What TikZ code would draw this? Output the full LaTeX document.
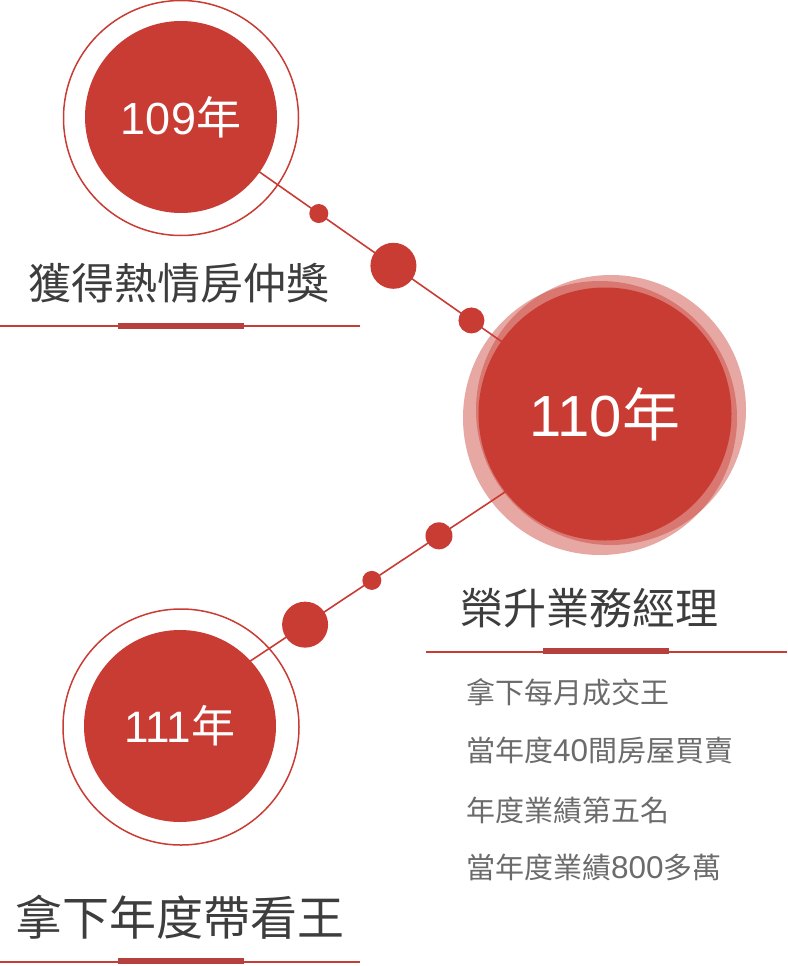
\documentclass[tikz,border=0pt]{standalone}
\usepackage{fontspec}
\setmainfont{Liberation Sans}
\newfontfamily\cjk{Noto Sans CJK TC}
\usetikzlibrary{backgrounds}
\definecolor{brand}{HTML}{C93C34}
\definecolor{barred}{HTML}{B5403D}
\definecolor{titlegray}{HTML}{3D3D3D}
\definecolor{itemgray}{HTML}{6B6B6B}
\newcommand{\itemdigits}[1]{{\fontsize{31.5}{31.5}\selectfont #1}}
\tikzset{
  bead/.style={circle, fill=brand, inner sep=0pt, draw=none},
  ringnode/.style={circle, draw=brand, line width=1.5pt, inner sep=0pt},
  disc/.style={circle, fill=brand, inner sep=0pt, text=white},
  halo/.style={circle, fill=brand, fill opacity=0.45, inner sep=0pt},
  link/.style={draw=brand, line width=1.6pt},
  titletext/.style={anchor=base west, inner sep=0pt, text=titlegray, font=\cjk\fontsize{43}{43}\selectfont},
  itemtext/.style={anchor=base west, inner sep=0pt, text=itemgray, font=\fontsize{29}{29}\selectfont},
  hairline/.style={draw=brand, line width=1.3pt},
  accentbar/.style={draw=barred, line width=6pt}
}
\begin{document}
\begin{tikzpicture}[x=1pt,y=-1pt]
\useasboundingbox (0,0) rectangle (787,966);

% circle 1
\node[ringnode, minimum size=235pt] (r1) at (181,118) {};
\node[disc, minimum size=192pt, font=\fontsize{45}{45}\selectfont] (c1) at (181,117) {109{\cjk 年}};

% circle 2 with halos
\node[halo, minimum size=274pt] (h1) at (600,418) {};
\node[halo, minimum size=270pt] (h2) at (611,410) {};
\node[disc, minimum size=253pt, font=\fontsize{58}{58}\selectfont] (c2) at (605,414) {110{\cjk 年}};

% circle 3
\node[ringnode, minimum size=236pt] (r3) at (181,727) {};
\node[disc, minimum size=192pt, font=\fontsize{44}{44}\selectfont] (c3) at (180,726) {111{\cjk 年}};

\coordinate (l2a) at (606,425);
\coordinate (l2b) at (181,707);

\begin{scope}[on background layer]
  \draw[link] (c1.center) -- (c2.center);
  \draw[link] (l2a) -- (l2b);
\end{scope}

% beads on first link
\path (c1.center) -- (c2.center)
  node[bead, pos=0.325, minimum size=19pt] (b1) {}
  node[bead, pos=0.501, minimum size=46pt] (b2) {}
  node[bead, pos=0.685, minimum size=26pt] (b3) {};
% beads on second link
\path (l2a) -- (l2b)
  node[bead, pos=0.393, minimum size=27pt] (b4) {}
  node[bead, pos=0.551, minimum size=19pt] (b5) {}
  node[bead, pos=0.708, minimum size=46pt] (b6) {};

% titles
\node[titletext] (t1) at (28,299) {獲得熱情房仲獎};
\node[titletext] (t2) at (460,624) {榮升業務經理};
\node[titletext, font=\cjk\fontsize{47}{47}\selectfont] (t3) at (15,935) {拿下年度帶看王};

% underlines
\draw[hairline] (0,326) -- (360,326);
\draw[accentbar] (118,326) -- (244,326);
\draw[hairline] (426,652) -- (787,652);
\draw[accentbar] (543,651) -- (669,651);
\draw[hairline] (0,962) -- (360,962);
\draw[accentbar] (118,961) -- (244,961);

% list
\node[itemtext] (i1) at (466,703) {\cjk 拿下每月成交王};
\node[itemtext] (i2) at (466,761) {{\cjk 當年度}\itemdigits{40}{\cjk 間房屋買賣}};
\node[itemtext] (i3) at (466,821) {\cjk 年度業績第五名};
\node[itemtext] (i4) at (466,878) {{\cjk 當年度業績}\itemdigits{800}{\cjk 多萬}};
\end{tikzpicture}
\end{document}
